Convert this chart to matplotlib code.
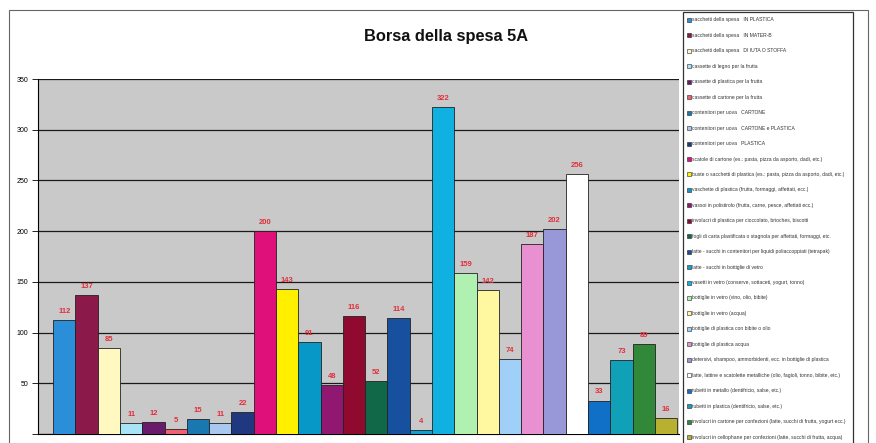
import matplotlib
matplotlib.use("Agg")
import matplotlib.pyplot as plt
from matplotlib.patches import Rectangle

title = "Borsa della spesa 5A"
categories = [
    "sacchetti della spesa   IN PLASTICA",
    "sacchetti della spesa   IN MATER-B",
    "sacchetti della spesa   DI IUTA O STOFFA",
    "cassette di legno per la frutta",
    "cassette di plastica per la frutta",
    "cassette di cartone per la frutta",
    "contenitori per uova   CARTONE",
    "contenitori per uova   CARTONE e PLASTICA",
    "contenitori per uova   PLASTICA",
    "scatole di cartone (es.: pasta, pizza da asporto, dadi, etc.)",
    "buste o sacchetti di plastica (es.: pasta, pizza da asporto, dadi, etc.)",
    "vaschette di plastica (frutta, formaggi, affettati, ecc.)",
    "vassoi in polistirolo (frutta, carne, pesce, affettati ecc.)",
    "involucri di plastica per cioccolato, brioches, biscotti",
    "fogli di carta plastificata o stagnola per affettati, formaggi, etc.",
    "latte - succhi in contenitori per liquidi poliaccoppiati (tetrapak)",
    "latte - succhi in bottiglie di vetro",
    "vasetti in vetro (conserve, sottaceti, yogurt, tonno)",
    "bottiglie in vetro (vino, olio, bibite)",
    "bottiglie in vetro (acqua)",
    "bottiglie di plastica con bibite o olio",
    "bottiglie di plastica acqua",
    "detersivi, shampoo, ammorbidenti, ecc. in bottiglie di plastica",
    "latte, lattine e scatolette metalliche (olio, fagioli, tonno, bibite, etc.)",
    "tubetti in metallo (dentifricio, salse, etc.)",
    "tubetti in plastica (dentifricio, salse, etc.)",
    "involucri in cartone per confezioni (latte, succhi di frutta, yogurt ecc.)",
    "involucri in cellophane per confezioni (latte, succhi di frutta, acqua)",
]
values = [112, 137, 85, 11, 12, 5, 15, 11, 22, 200, 143, 91, 48, 116, 52, 114,
          4, 322, 159, 142, 74, 187, 202, 256, 33, 73, 89, 16]
colors = ['#2a8fd8', '#8b1a4a', '#fff8c0', '#a8e4f8', '#6a1a6a', '#f06070',
          '#1a78b0', '#a8c8f0', '#203880', '#e0107a', '#fff000', '#0898c8',
          '#901870', '#900a30', '#106848', '#1850a0', '#10a0d0', '#10b0e0',
          '#b0f0b0', '#fff8a0', '#a0d0f8', '#e890d0', '#9898d8', '#ffffff',
          '#1070c8', '#10a0b8', '#308838', '#b8b030']
yticks = [0, 50, 100, 150, 200, 250, 300, 350]

plt.rcParams['font.family'] = ['Liberation Sans', 'DejaVu Sans']

W, H = 876, 443
fig = plt.figure(figsize=(W / 100, H / 100), dpi=100)
fig.patch.set_facecolor('white')

# outer chart border
fig.add_artist(Rectangle((9 / W, -0.01), (868 - 9) / W, 1 - 10 / H + 0.01,
                         transform=fig.transFigure, fill=False,
                         edgecolor='#666666', lw=0.8))

ax_l, ax_r, ax_t, ax_b = 38, 679, 79, 434
ax = fig.add_axes([ax_l / W, 1 - ax_b / H, (ax_r - ax_l) / W, (ax_b - ax_t) / H])
ax.set_facecolor('#c9c9c9')

x = list(range(len(values)))
ax.bar(x, values, width=1.0, color=colors, edgecolor='#222222', linewidth=0.6,
       zorder=3)
for xi, v in zip(x, values):
    ax.text(xi, v + 5, str(v), ha='center', va='bottom', color='#e0303c',
            fontsize=5.5, fontweight='bold', zorder=4)

ax.set_xlim(-0.5 - 0.68, 27.5 + 0.08)
ax.set_ylim(0, 350)
ax.set_yticks(yticks)
ax.set_yticklabels([''] + [str(t) for t in yticks[1:]], fontsize=5)
ax.yaxis.grid(True, color='#1a1a1a', linewidth=0.9, zorder=1)
ax.set_xticks([])
ax.tick_params(axis='y', length=4, width=0.6, pad=3)
for s in ['top', 'right']:
    ax.spines[s].set_visible(False)
ax.spines['left'].set_linewidth(0.8)
ax.spines['bottom'].set_linewidth(0.8)

fig.text(446 / W, 1 - 37 / H, title, ha='center', va='center',
         fontsize=11.8, fontweight='bold', color='#111111')

# legend box
lx0, lx1, ly0 = 683, 853, 12
fig.add_artist(Rectangle((lx0 / W, -0.01), (lx1 - lx0) / W, 1 - ly0 / H + 0.01,
                         transform=fig.transFigure, fill=True, facecolor='white',
                         edgecolor='#333333', lw=0.9, zorder=5))
step = (437 - 20) / 27
for i, (c, lab) in enumerate(zip(colors, categories)):
    yc = 20 + i * step
    fig.add_artist(Rectangle((687 / W, 1 - (yc + 2) / H), 4 / W, 4 / H,
                             transform=fig.transFigure, facecolor=c,
                             edgecolor='#222222', lw=0.4, zorder=6))
    fig.text(692 / W, 1 - yc / H, lab, ha='left', va='center', fontsize=3.6,
             color='#333333', zorder=6)

fig.savefig('out.png', dpi=100)
